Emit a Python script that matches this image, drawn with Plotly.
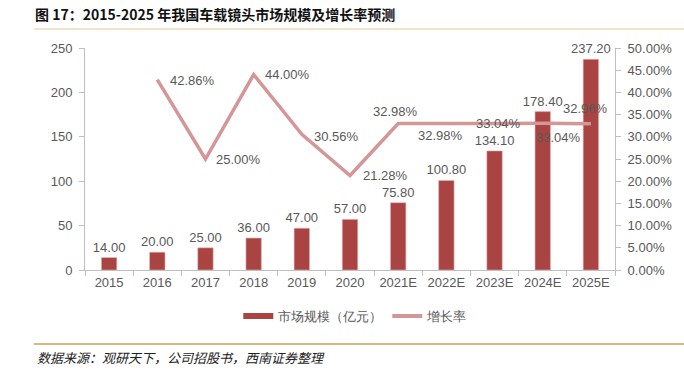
import plotly.graph_objects as go

years = ["2015", "2016", "2017", "2018", "2019", "2020", "2021E", "2022E", "2023E", "2024E", "2025E"]
market = [14.00, 20.00, 25.00, 36.00, 47.00, 57.00, 75.80, 100.80, 134.10, 178.40, 237.20]
growth = [None, 42.86, 25.00, 44.00, 30.56, 21.28, 32.98, 32.98, 33.04, 33.04, 32.96]
# label placement offsets for growth labels (pixels)
g_xshift = [0, 35, 33, 34, 35, 35, -3, -6, 4, 16, -5]
g_yshift = [0, -1, 0, 0, -2, 0, 12, -12, 0, -14, 15]

left_ticks = [0, 50, 100, 150, 200, 250]
right_ticks = [0, 5, 10, 15, 20, 25, 30, 35, 40, 45, 50]

BAR = "#A94442"
LINE = "#D49696"
TXT = "#595959"
AX = "#BFBFBF"
FONT = "Liberation Sans, Arial, sans-serif"
CJK = "Noto Sans CJK SC, sans-serif"

W, H = 684, 375

idx = list(range(len(years)))

fig = go.Figure()
fig.add_trace(go.Bar(
    x=idx, y=market, name="市场规模（亿元）", showlegend=False,
    marker=dict(color=BAR, line=dict(color="#E8B4B4", width=0.6)),
    text=[f"{v:.2f}" for v in market], textposition="outside", constraintext="none",
    textfont=dict(size=13, color=TXT, family=FONT), cliponaxis=False,
    width=0.32,
))
fig.add_trace(go.Scatter(
    x=idx, y=growth, name="增长率", yaxis="y2", mode="lines", showlegend=False,
    line=dict(color=LINE, width=3.5),
))
# legend entries
fig.add_trace(go.Scatter(x=[None], y=[None], mode="lines", name="市场规模（亿元）",
                         line=dict(color=BAR, width=6)))
fig.add_trace(go.Scatter(x=[None], y=[None], mode="lines", name="增长率",
                         line=dict(color=LINE, width=4)))
for xv, yv, dx, dy in zip(idx, growth, g_xshift, g_yshift):
    if yv is None:
        continue
    fig.add_annotation(x=xv, y=yv, xref="x", yref="y2", text=f"{yv:.2f}%", showarrow=False,
                       xshift=dx, yshift=dy, font=dict(size=13, color=TXT, family=FONT))

fig.update_layout(
    width=W, height=H,
    margin=dict(l=85, r=W - 615, t=48, b=H - 270),
    plot_bgcolor="white", paper_bgcolor="white",
    font=dict(family=FONT, color=TXT, size=13),
    showlegend=True,
    legend=dict(orientation="h", x=0.51, xanchor="center", y=-0.14, yanchor="top",
                font=dict(size=13, color=TXT), traceorder="normal"),
    xaxis=dict(range=[-0.5, len(years) - 0.5], tickvals=idx, ticktext=years,
               showline=True, linecolor=AX, linewidth=1, ticks="",
               tickfont=dict(size=13, color=TXT), showgrid=False, zeroline=False,
               minor=dict(tickvals=[i - 0.5 for i in idx] + [len(years) - 0.5],
                          ticks="outside", ticklen=5, tickcolor=AX, showgrid=False)),
    yaxis=dict(range=[0, 250], tickvals=left_ticks, showline=True, linecolor=AX,
               ticks="outside", tickcolor=AX, ticklen=5, showgrid=False, zeroline=False,
               tickfont=dict(size=13, color=TXT), ticklabelstandoff=4),
    yaxis2=dict(range=[0, 50], tickvals=right_ticks, ticktext=[f"{v:.2f}%" for v in right_ticks],
                overlaying="y", side="right", showline=True, linecolor=AX,
                ticks="outside", tickcolor=AX, ticklen=5, showgrid=False, zeroline=False,
                tickfont=dict(size=13, color=TXT), ticklabelstandoff=4),
    title=dict(text="<b>图 17：2015-2025 年我国车载镜头市场规模及增长率预测</b>",
               x=35 / W, xanchor="left", xref="container", y=1 - 15 / H,
               yanchor="middle", yref="container",
               font=dict(size=14, color="#111111", family=CJK)),
)
fig.add_shape(type="line", xref="paper", yref="paper",
              x0=(34-85)/530, x1=(684-85)/530, y0=(270-29)/222, y1=(270-29)/222,
              line=dict(color="#F0E4CC", width=2))
fig.add_shape(type="line", xref="paper", yref="paper",
              x0=(34-85)/530, x1=(684-85)/530, y0=(270-344)/222, y1=(270-344)/222,
              line=dict(color="#DDB67E", width=2))
fig.add_annotation(xref="paper", yref="paper", x=(35-85)/530, y=(270-357)/222,
                   xanchor="left", yanchor="middle", showarrow=False,
                   text="<i>数据来源：观研天下，公司招股书，西南证券整理</i>",
                   font=dict(size=13, color="#222222", family=CJK))
fig.write_html("out.html", config={"displayModeBar": False},
               post_script="document.body.style.margin='0';")
